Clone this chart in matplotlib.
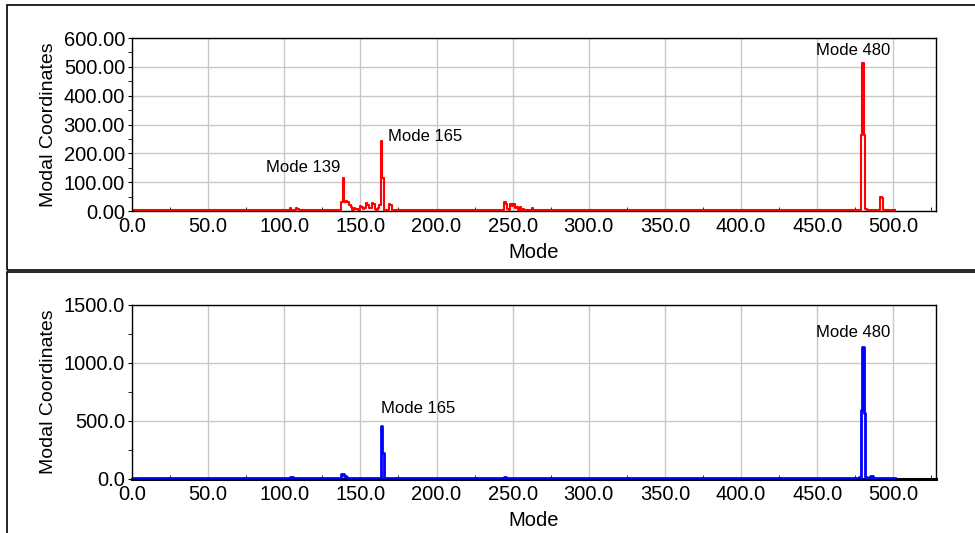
import numpy as np
import matplotlib.pyplot as plt
from matplotlib.patches import Rectangle
from matplotlib.ticker import MultipleLocator, FormatStrFormatter

plt.rcParams['font.family'] = ['Liberation Sans', 'DejaVu Sans']

n_modes = 501
x_ticks = [0, 50, 100, 150, 200, 250, 300, 350, 400, 450, 500]

# top panel (red) - nonzero modal coordinates
red_base = 2.0
red_modes = [44, 45, 47, 53, 104, 105, 108, 109, 125, 132, 136, 138, 139, 140, 141,
             142, 143, 144, 146, 147, 148, 150, 151, 152, 153, 154, 155, 156, 157, 158, 159,
             160, 161, 162, 163, 164, 165, 166, 168, 169, 170,
             245, 246, 247, 249, 250, 251, 252, 253, 255, 257, 263,
             479, 480, 481, 482, 484, 486, 487, 489, 491, 492, 493]
red_vals = [3, 4, 3, 2, 10, 5, 12, 8, 3, 5, 5, 30, 115, 32, 35,
            30, 20, 15, 10, 6, 8, 18, 15, 8, 10, 27, 22, 10, 12, 28, 25,
            8, 5, 10, 20, 243, 115, 5, 3, 25, 22,
            32, 25, 8, 24, 18, 24, 12, 15, 15, 8, 10,
            265, 512, 265, 6, 3, 5, 4, 5, 3, 48, 45]

# bottom panel (blue)
blue_base = 5.0
blue_modes = [104, 105, 106, 108, 109, 138, 139, 140, 141, 142, 143, 145, 147, 149, 151,
              153, 155, 164, 165, 166, 244, 245, 246, 248, 250, 252, 254, 256,
              478, 479, 480, 481, 482, 485, 486, 487, 493]
blue_vals = [15, 18, 10, 12, 8, 45, 40, 25, 15, 10, 8, 6, 8, 6, 8,
             5, 10, 455, 225, 6, 8, 15, 10, 8, 10, 8, 6, 5,
             15, 595, 1135, 572, 15, 28, 22, 8, 8]

red_labels = [("Mode 139", 112.4, 152), ("Mode 165", 192.5, 260), ("Mode 480", 473.7, 558)]
blue_labels = [("Mode 165", 188, 605), ("Mode 480", 473.7, 1262)]

modes = np.arange(1, n_modes + 1)
red = np.full(n_modes, red_base)
red[np.array(red_modes) - 1] = red_vals
blue = np.full(n_modes, blue_base)
blue[np.array(blue_modes) - 1] = blue_vals

fig = plt.figure(figsize=(9.75, 5.33), dpi=100)

# panel frames
fig.patches.append(Rectangle((7/975, 1 - 270/533), 1.0, 265/533, transform=fig.transFigure,
                             fill=False, ec='black', lw=1.2))
fig.patches.append(Rectangle((7/975, -0.05), 1.0, 1 - 272/533 + 0.05, transform=fig.transFigure,
                             fill=False, ec='black', lw=1.2))

ax1 = fig.add_axes([132/975, 1 - 211/533, (936 - 132)/975, 173/533])
ax2 = fig.add_axes([132/975, 1 - 479/533, (936 - 132)/975, 174/533])


def style(ax, ymax, ystep, yminor, yfmt):
    ax.set_xlim(0, 528)
    ax.set_ylim(0, ymax)
    ax.set_xticks(x_ticks)
    ax.xaxis.set_minor_locator(MultipleLocator(25))
    ax.yaxis.set_major_locator(MultipleLocator(ystep))
    ax.yaxis.set_minor_locator(MultipleLocator(yminor))
    ax.xaxis.set_major_formatter(FormatStrFormatter('%.1f'))
    ax.yaxis.set_major_formatter(FormatStrFormatter(yfmt))
    ax.tick_params(axis='x', which='major', length=0, pad=4, labelsize=14.5)
    ax.tick_params(axis='x', which='minor', direction='in', length=3)
    ax.tick_params(axis='y', which='both', direction='out', length=3, pad=2, labelsize=14.5)
    ax.grid(True, which='major', color='#c8c8c8', lw=1)
    ax.set_axisbelow(True)
    ax.set_xlabel('Mode', fontsize=14.5, labelpad=5)
    ax.set_ylabel('Modal Coordinates', fontsize=14, labelpad=5)
    for s in ax.spines.values():
        s.set_linewidth(1)


style(ax1, 600, 100, 50, '%.2f')
style(ax2, 1500, 500, 250, '%.1f')
ax2.spines['bottom'].set_linewidth(2.2)

ax1.plot(modes, red, color='#ff0000', lw=1.5, drawstyle='steps-mid', zorder=3)
ax2.plot(modes, blue, color='#0000ff', lw=2.0, drawstyle='steps-mid', zorder=3)

for txt, x, y in red_labels:
    ax1.text(x, y, txt, ha='center', va='center', fontsize=12)
for txt, x, y in blue_labels:
    ax2.text(x, y, txt, ha='center', va='center', fontsize=12)

fig.savefig('out.png', dpi=100)
